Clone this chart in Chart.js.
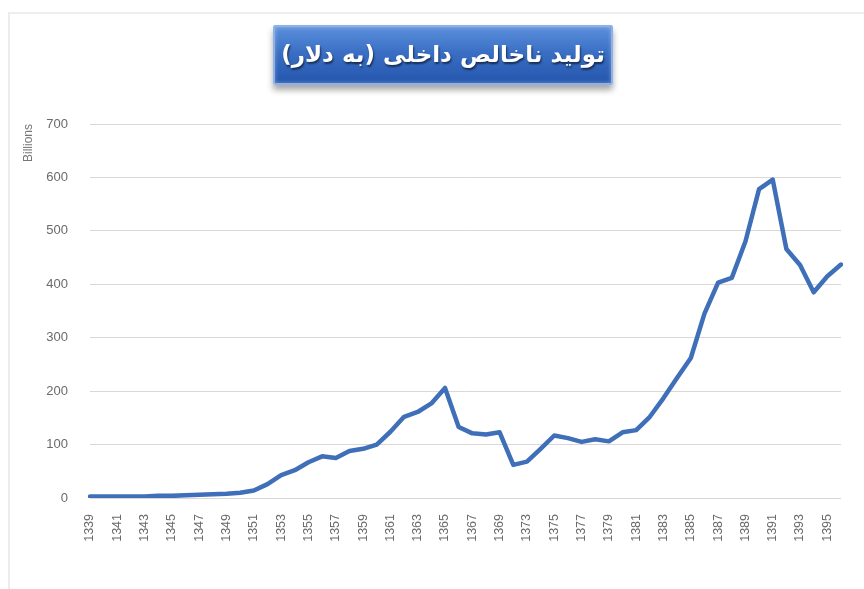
<!DOCTYPE html>
<html>
<head>
<meta charset="utf-8">
<script src="https://cdn.jsdelivr.net/npm/chart.js@4.4.1/dist/chart.umd.min.js"></script>
<style>
  html, body { margin: 0; padding: 0; background: #ffffff; }
  #wrap { position: relative; width: 864px; height: 589px; overflow: hidden; }
  #frame { position: absolute; left: 8px; top: 12px; right: -2px; bottom: -2px;
           border-left: 2px solid #ececec; border-top: 2px solid #eeeeee; }
  #chart { position: absolute; left: 0; top: 0; }
  #title {
    position: absolute; left: 273px; top: 25px; width: 340px; height: 60px;
    box-sizing: border-box;
    background: linear-gradient(to bottom, #5b8fdc 0%, #3a6fc4 45%, #2456ad 100%);
    border: 2px solid #8fb2e6; border-radius: 2px;
    box-shadow: 0 5px 6px rgba(0,0,0,0.35), inset 0 0 4px rgba(255,255,255,0.35);
    color: #ffffff; font-family: "DejaVu Sans", sans-serif; font-weight: bold;
    font-size: 23px; direction: rtl; text-align: center; line-height: 54px;
    text-shadow: 1px 2px 2px rgba(0,0,0,0.55); white-space: nowrap;
  }
</style>
</head>
<body>
<div id="wrap">
  <div id="frame"></div>
  <canvas id="chart" width="864" height="589"></canvas>
  <div id="title">تولید ناخالص داخلی (به دلار)</div>
</div>
<script>
// Solar-Hijri years (1370 and 1371 are absent from the series)
const years = [
  '1339','1340','1341','1342','1343','1344','1345','1346','1347','1348',
  '1349','1350','1351','1352','1353','1354','1355','1356','1357','1358',
  '1359','1360','1361','1362','1363','1364','1365','1366','1367','1368',
  '1369','1372','1373','1374','1375','1376','1377','1378','1379','1380',
  '1381','1382','1383','1384','1385','1386','1387','1388','1389','1390',
  '1391','1392','1393','1394','1395','1396'
];

// GDP, billions of US dollars
const gdpBillions = [
  3, 3, 3, 3, 3, 4, 4, 5, 6, 7,
  8, 10, 14, 26, 43, 52, 67, 78, 75, 88,
  92, 100, 124, 152, 161, 177, 206, 133, 121, 119,
  123, 62, 68, 92, 117, 112, 105, 110, 106, 123,
  127, 152, 187, 225, 262, 345, 403, 412, 480, 578,
  596, 466, 436, 385, 415, 437
];

const yTicks = [0, 100, 200, 300, 400, 500, 600, 700];
const yAxisTitle = 'Billions';

const ctx = document.getElementById('chart').getContext('2d');
new Chart(ctx, {
  type: 'line',
  data: {
    labels: years,
    datasets: [{
      data: gdpBillions,
      borderColor: '#3f6fb9',
      borderWidth: 4.5,
      pointRadius: 0,
      tension: 0,
      fill: false,
      borderJoinStyle: 'round',
      borderCapStyle: 'round'
    }]
  },
  options: {
    responsive: false,
    animation: false,
    layout: { padding: { left: 12, right: 22, top: 124, bottom: 0 } },
    plugins: { legend: { display: false }, tooltip: { enabled: false } },
    scales: {
      x: {
        type: 'category',
        offset: false,
        grid: { display: false },
        border: { display: false },
        ticks: {
          autoSkip: false,
          maxRotation: 90,
          minRotation: 90,
          padding: 8,
          color: '#6a6a6a',
          font: { family: 'Liberation Sans', size: 12.5 },
          callback: function (v, i) { return i % 2 === 0 ? this.getLabelForValue(v) : ''; }
        },
        afterFit: (s) => { s.height = 91; }
      },
      y: {
        min: 0,
        max: 700,
        afterBuildTicks: (s) => { s.ticks = yTicks.map(v => ({ value: v })); },
        grid: { color: '#ddd6d6', lineWidth: 1, drawTicks: false },
        border: { display: false },
        ticks: {
          padding: 22,
          color: '#6a6a6a',
          font: { family: 'Liberation Sans', size: 13 }
        },
        title: {
          display: true,
          text: yAxisTitle,
          align: 'end',
          color: '#777777',
          font: { family: 'Liberation Sans', size: 12 },
          padding: { top: 9, bottom: 0 }
        },
        afterFit: (s) => { s.width = 78; }
      }
    }
  }
});
</script>
</body>
</html>
